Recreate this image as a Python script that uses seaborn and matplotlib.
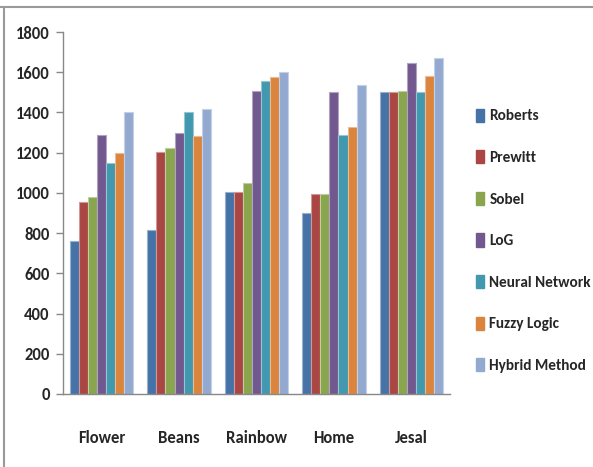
import matplotlib
matplotlib.use("Agg")
import matplotlib.pyplot as plt
import seaborn as sns
import pandas as pd
import numpy as np
from matplotlib.lines import Line2D
from matplotlib import font_manager
from matplotlib.colors import to_rgb

categories = ["Flower", "Beans", "Rainbow", "Home", "Jesal"]
methods = ["Roberts", "Prewitt", "Sobel", "LoG", "Neural Network", "Fuzzy Logic", "Hybrid Method"]
roberts = [760, 815, 1005, 900, 1500]
prewitt = [955, 1205, 1005, 995, 1500]
sobel = [980, 1225, 1050, 995, 1505]
log = [1290, 1300, 1505, 1500, 1645]
neural = [1150, 1400, 1555, 1290, 1500]
fuzzy = [1200, 1285, 1575, 1330, 1580]
hybrid = [1400, 1415, 1600, 1535, 1670]
yticks = [0, 200, 400, 600, 800, 1000, 1200, 1400, 1600, 1800]
colors = ["#4572A7", "#AA4643", "#89A54E", "#71588F", "#4198AF", "#DB843D", "#93A9CF"]

series = [roberts, prewitt, sobel, log, neural, fuzzy, hybrid]
rows = []
for m, vals in zip(methods, series):
    for c, v in zip(categories, vals):
        rows.append({"cat": c, "method": m, "val": v})
df = pd.DataFrame(rows)

sns.set_style("white")
names = {f.name for f in font_manager.fontManager.ttflist}
fam = "Liberation Sans"
for cand in ["Carlito", "Open Sans Condensed", "Roboto Condensed", "PT Sans Narrow", "Archivo Narrow", "Liberation Sans Narrow"]:
    if cand in names:
        fam = cand
        break
plt.rcParams["font.family"] = [fam, "DejaVu Sans"]

fig = plt.figure(figsize=(5.93, 4.67), dpi=100)
ax = fig.add_axes([63/593, 1-394/467, (450-63)/593, (394-32)/467])
sns.barplot(data=df, x="cat", y="val", hue="method", order=categories, hue_order=methods,
            palette=colors, width=0.82, gap=0, ax=ax, saturation=1, legend=True, errorbar=None)

for p in ax.patches:
    fc = np.array(to_rgb(p.get_facecolor()))
    p.set_edgecolor(tuple(fc + (1 - fc) * 0.45))
    p.set_linewidth(0.8)

ax.set_ylim(0, 1800)
ax.set_xlim(-0.5, 4.5)
ax.set_yticks(yticks)
ax.set_yticklabels([str(t) for t in yticks], fontsize=12, fontweight="bold")
ax.set_xticks(range(len(categories)))
ax.set_xticklabels(categories, fontsize=12, fontweight="bold")
ax.tick_params(axis="x", length=0, pad=26)
ax.set_xticks(np.arange(-0.5, 5, 1), minor=True)
ax.tick_params(axis="x", which="minor", length=9, color="#888888", width=1, direction="out")
ax.tick_params(axis="y", length=5, color="#888888", width=1, direction="out", pad=4.5, left=True)
ax.set_xlabel("")
ax.set_ylabel("")
for s in ["top", "right"]:
    ax.spines[s].set_visible(False)
for s in ["left", "bottom"]:
    ax.spines[s].set_color("#888888")
    ax.spines[s].set_linewidth(1)

ax.legend_.remove()
handles = [plt.Rectangle((0, 0), 1, 1, color=c) for c in colors]
fig.legend(handles, methods, loc="upper left", bbox_to_anchor=(468/593, 1-101/467),
           frameon=False, prop={"size": 11, "weight": "bold"}, handlelength=0.55,
           handleheight=0.95, handletextpad=0.35, labelspacing=1.75, borderpad=0)

fig.add_artist(Line2D([0, 1], [1-7/467, 1-7/467], color="#999999", lw=1.5, transform=fig.transFigure))
fig.add_artist(Line2D([4/593, 4/593], [0, 1-7/467], color="#999999", lw=1.5, transform=fig.transFigure))

fig.savefig("out.png", dpi=100)
